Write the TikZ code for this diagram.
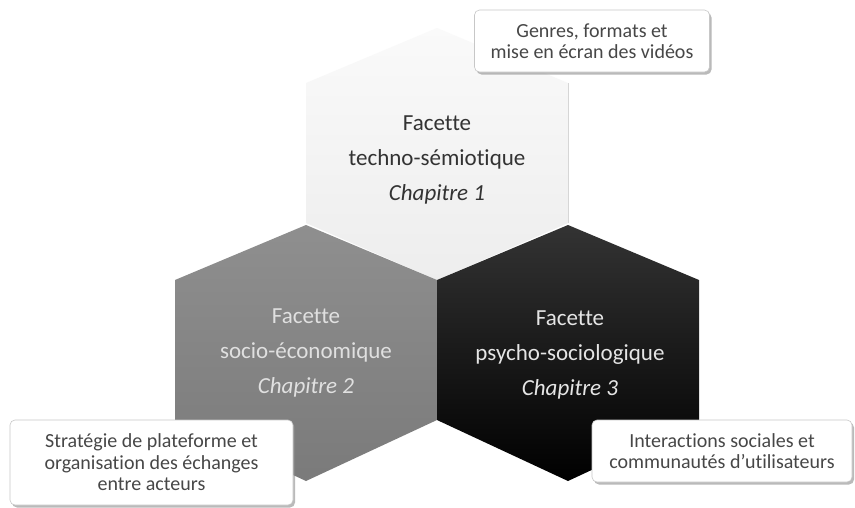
\documentclass[tikz,border=0pt]{standalone}
\usepackage{fontspec}
\setmainfont{Carlito}[Ligatures=NoCommon]
\usetikzlibrary{shadows}
\begin{document}
\begin{tikzpicture}[x=1pt,y=-1pt,
  hexlabel/.style={align=center,font=\fontsize{23}{35}\selectfont,inner sep=0pt},
  callout/.style={draw=black!22,line width=0.6pt,fill=white,rounded corners=5pt,
    align=center,inner sep=0pt,text=black!72,font=\fontsize{20}{21.5}\selectfont,
    drop shadow={shadow xshift=2pt,shadow yshift=-2.5pt,fill=black!45,opacity=0.6}}]
\useasboundingbox (0,0) rectangle (855,507);
\fill[white] (0,0) rectangle (855,507);
% top hexagon (light)
\path[top color=black!2,bottom color=black!7]
  (306,83) -- (437,28) -- (568,83) -- (568,223) -- (437,280) -- (306,223) -- cycle;
\draw[black!16,line width=1.2pt] (568.5,83) -- (568.5,223);
% bottom-left hexagon (gray)
\path[top color=black!44,bottom color=black!52]
  (175,280) -- (306,225) -- (437,280) -- (437,420) -- (306,481) -- (175,420) -- cycle;
% bottom-right hexagon (black)
\path[top color=black!80,middle color=black,bottom color=black]
  (437,280) -- (568,225) -- (699,280) -- (699,420) -- (568,481) -- (437,420) -- cycle;
% hexagon labels
\node[hexlabel,text=black!80] (h1) at (437,160) {Facette\\techno-sémiotique\\\textit{Chapitre 1}};
\node[hexlabel,text=black!12] (h2) at (306,353) {Facette\\socio-économique\\\textit{Chapitre 2}};
\node[hexlabel,text=black!10] (h3) at (570,355) {Facette\\psycho-sociologique\\\textit{Chapitre 3}};
% callouts
\node[callout,minimum width=235pt,minimum height=62pt] (c1) at (592,41)
  {Genres, formats et\\mise en écran des vidéos};
\node[callout,minimum width=283pt,minimum height=85pt] (c2) at (151.5,462.5)
  {Stratégie de plateforme et\\organisation des échanges\\entre acteurs};
\node[callout,minimum width=260pt,minimum height=62pt] (c3) at (722,451)
  {Interactions sociales et\\communautés d’utilisateurs};
\end{tikzpicture}
\end{document}
